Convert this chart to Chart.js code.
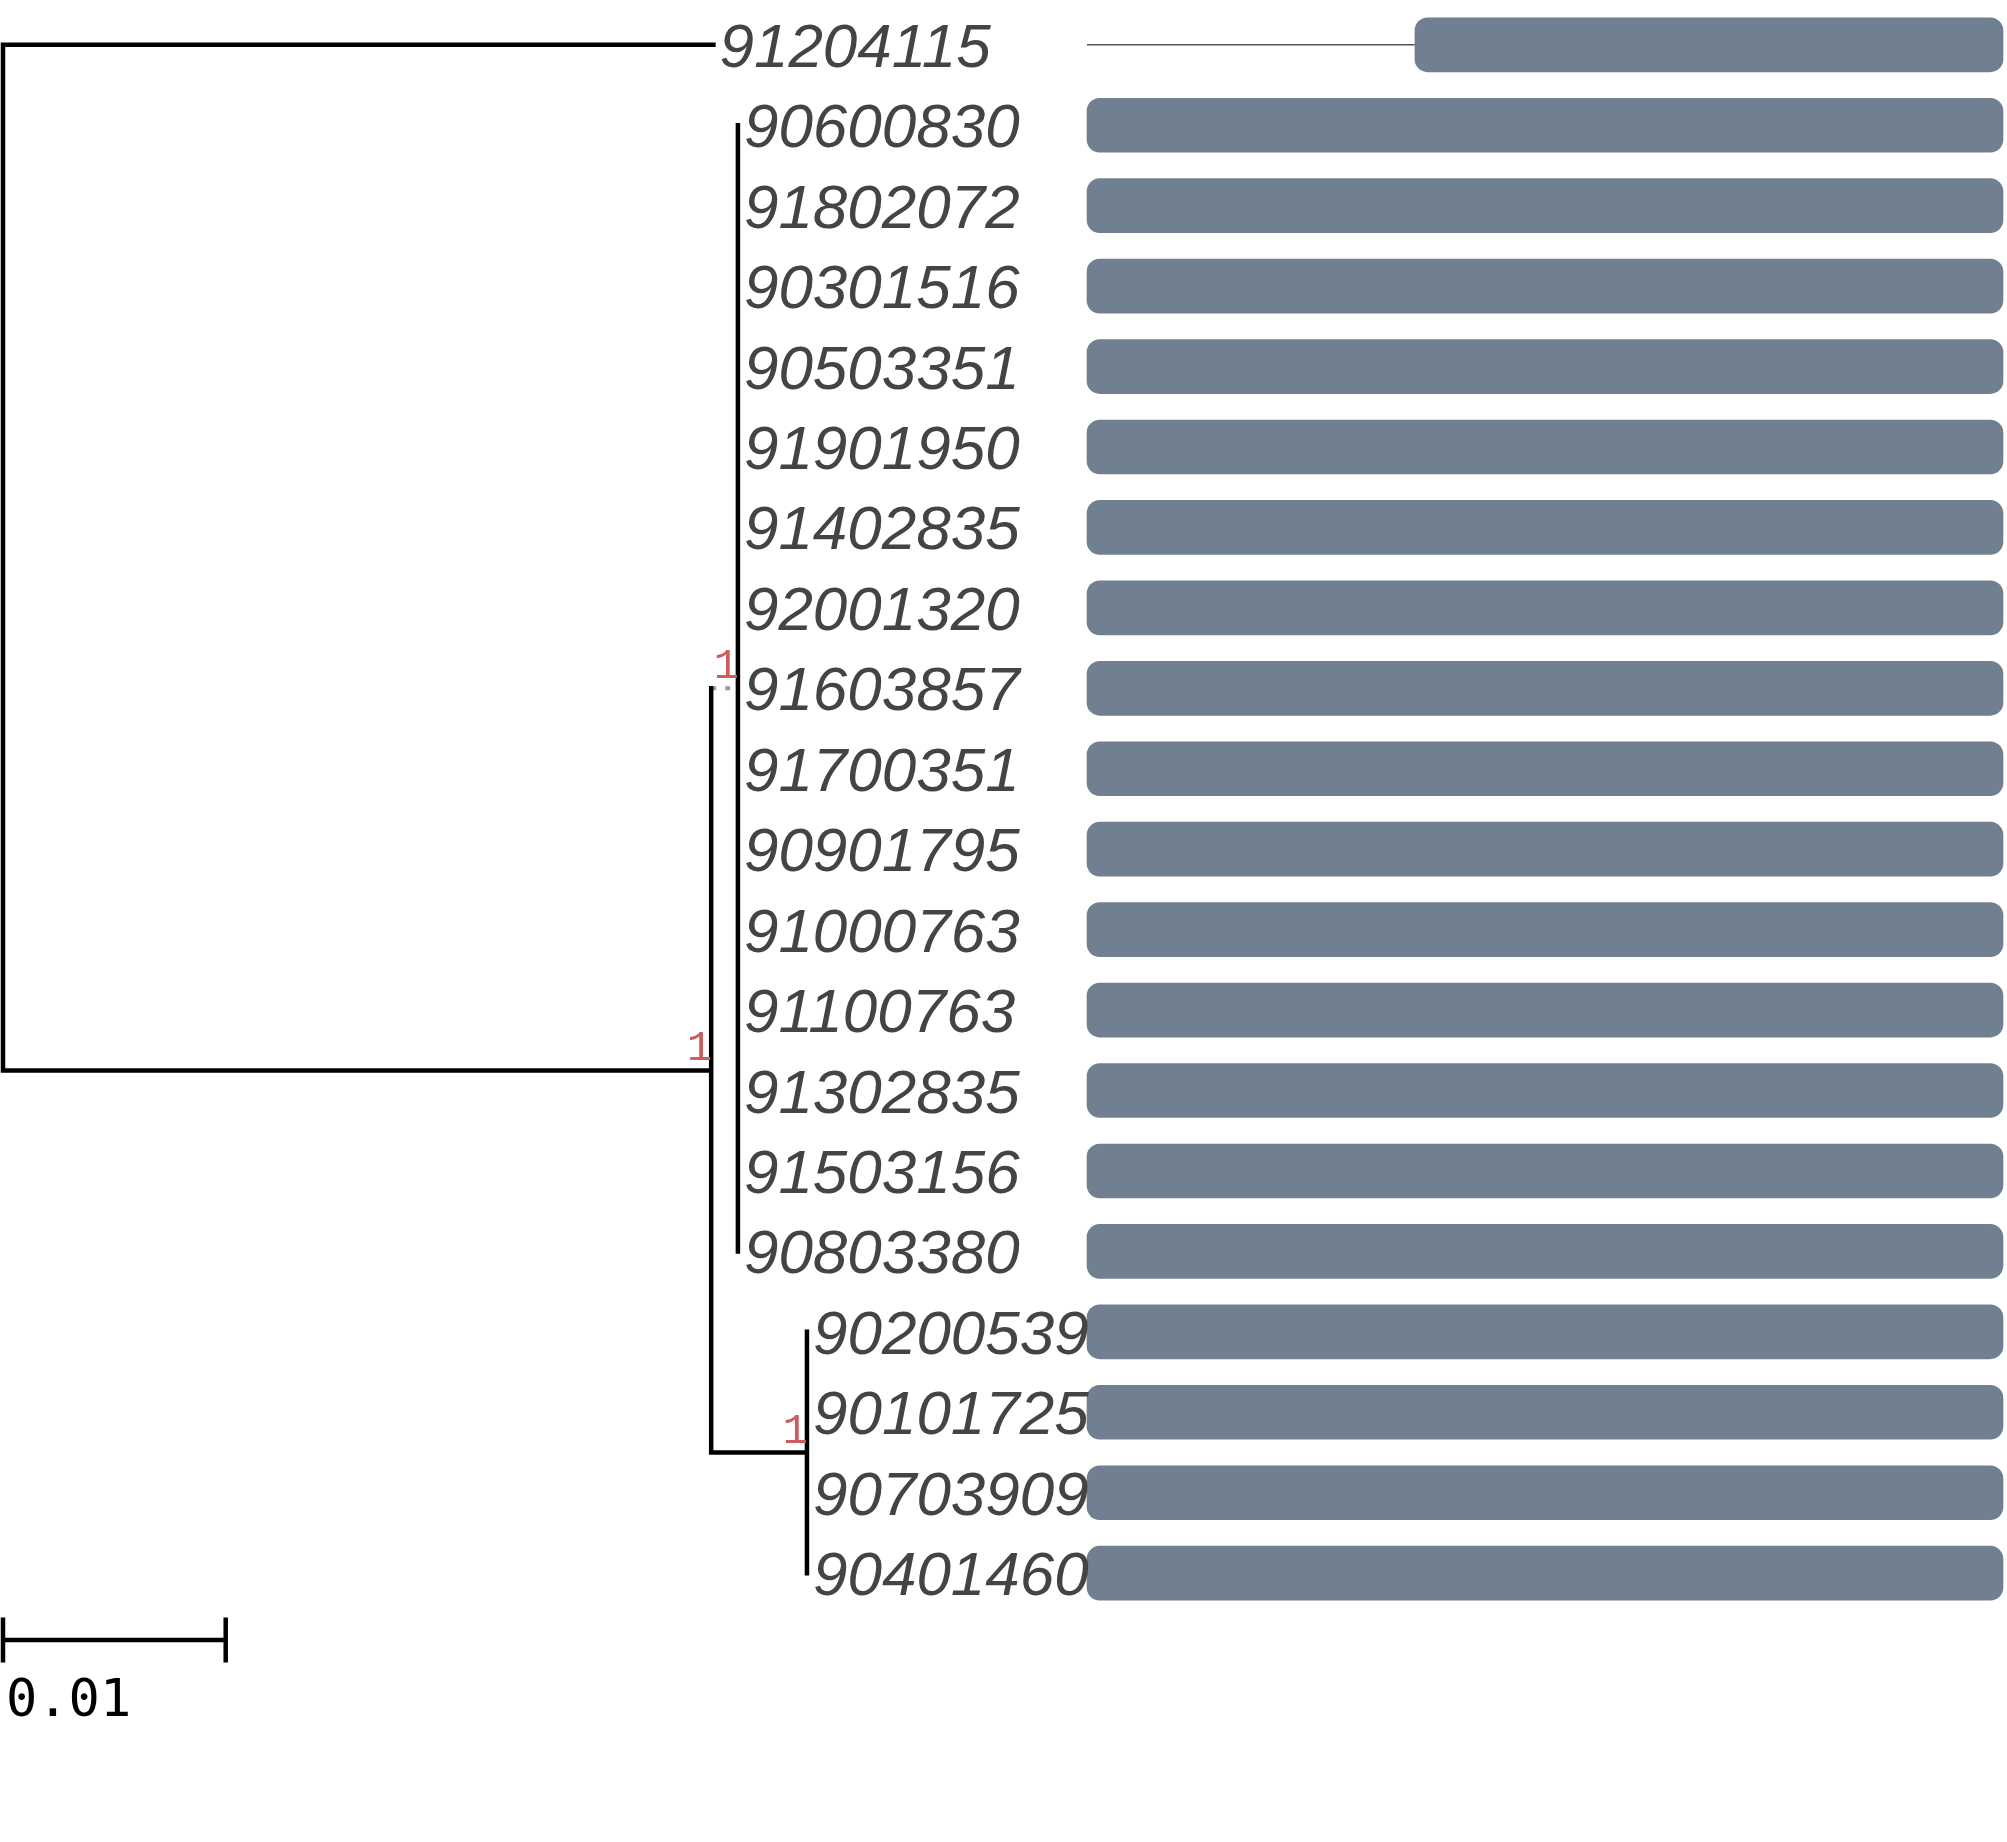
<!DOCTYPE html>
<html>
<head>
<meta charset="UTF-8">
<style>
  html, body { margin: 0; padding: 0; background: #fff; }
  #wrap { width: 2007px; height: 1842px; }
</style>
</head>
<body>
<div id="wrap"><canvas id="tree"></canvas></div>
<script src="https://cdn.jsdelivr.net/npm/chart.js@4.4.0/dist/chart.umd.min.js"></script>
<script>
// tips, top to bottom
const tipLabels = ['91204115', '90600830', '91802072', '90301516', '90503351', '91901950',
  '91402835', '92001320', '91603857', '91700351', '90901795', '91000763', '91100763',
  '91302835', '91503156', '90803380', '90200539', '90101725', '90703909', '90401460'];
const tipParent = ['root', 'B', 'B', 'B', 'B', 'B', 'B', 'B', 'B', 'B', 'B', 'B', 'B', 'B', 'B', 'B',
  'C', 'C', 'C', 'C'];
const tipBranch = [0.0319, 0, 0, 0, 0, 0, 0, 0, 0, 0, 0, 0, 0, 0, 0, 0, 0, 0, 0, 0];

// internal nodes (parents listed before children)
const nodeNames = ['root', 'A', 'B', 'C'];
const nodeParent = [null, 'root', 'A', 'A'];
const nodeBranch = [0, 0.0318, 0.0012, 0.0043];
const nodeSupport = ['', '1', '1', '1'];

// sequence coverage in the alignment panel
const alignLength = 1000;
const seqStart = [358, 0, 0, 0, 0, 0, 0, 0, 0, 0, 0, 0, 0, 0, 0, 0, 0, 0, 0, 0];
const seqEnd = [1000, 1000, 1000, 1000, 1000, 1000, 1000, 1000, 1000, 1000, 1000, 1000, 1000,
  1000, 1000, 1000, 1000, 1000, 1000, 1000];

const scaleBarLength = 0.01;
const scaleBarLabel = '0.01';

// ---- layout (pixels) ----
const W = 2007, H = 1842;
const TREE_X0 = 3, TREE_PX_PER_UNIT = 22270;
const ROW_Y0 = 44.8, ROW_PX = 80.44;
const ALN_X0 = 1087, ALN_X1 = 2003;
const SCALE_ROW = 19.83, SCALE_TICK = 0.28;

function range(px0, pxPerUnit, size) {
  return { min: -px0 / pxPerUnit, max: (size - px0) / pxPerUnit };
}

// ---- build tree geometry ----
const nodeX = {}, nodeY = {};
nodeNames.forEach((n, i) => {
  nodeX[n] = nodeParent[i] === null ? 0 : nodeX[nodeParent[i]] + nodeBranch[i];
});
const tipX = tipLabels.map((_, i) => nodeX[tipParent[i]] + tipBranch[i]);
const childYs = {};
nodeNames.forEach(n => { childYs[n] = []; });
tipParent.forEach((p, i) => childYs[p].push(i));
for (let i = nodeNames.length - 1; i >= 0; i--) {
  const n = nodeNames[i];
  const ys = childYs[n];
  nodeY[n] = (Math.min(...ys) + Math.max(...ys)) / 2;
  if (nodeParent[i] !== null) childYs[nodeParent[i]].push(nodeY[n]);
}

const solid = [], dotted = [];
const gap = { x: null, y: null };
tipLabels.forEach((_, i) => {
  if (tipBranch[i] > 0) {
    solid.push({ x: nodeX[tipParent[i]], y: i }, { x: tipX[i], y: i }, gap);
  }
});
nodeNames.forEach((n, i) => {
  if (nodeParent[i] !== null) {
    const seg = [{ x: nodeX[nodeParent[i]], y: nodeY[n] }, { x: nodeX[n], y: nodeY[n] }, gap];
    (nodeBranch[i] < 0.002 ? dotted : solid).push(...seg);
  }
  const ys = childYs[n];
  solid.push({ x: nodeX[n], y: Math.min(...ys) }, { x: nodeX[n], y: Math.max(...ys) }, gap);
});

// thin line for the uncovered part of each sequence
const backbone = [];
tipLabels.forEach((_, i) => {
  if (seqStart[i] > 0) backbone.push({ x: 0, y: i }, { x: seqStart[i], y: i }, gap);
});

const scaleBar = [
  { x: 0, y: SCALE_ROW }, { x: scaleBarLength, y: SCALE_ROW }, gap,
  { x: 0, y: SCALE_ROW - SCALE_TICK }, { x: 0, y: SCALE_ROW + SCALE_TICK }, gap,
  { x: scaleBarLength, y: SCALE_ROW - SCALE_TICK }, { x: scaleBarLength, y: SCALE_ROW + SCALE_TICK }
];

const lineStyle = { type: 'line', pointRadius: 0, tension: 0, fill: false, spanGaps: false, clip: false };

const treeLabels = {
  id: 'treeLabels',
  afterDatasetsDraw(chart) {
    const ctx = chart.ctx, x = chart.scales.x, y = chart.scales.y;
    ctx.save();
    ctx.textBaseline = 'alphabetic';
    ctx.font = 'italic 62px "Liberation Sans", Arial, sans-serif';
    ctx.fillStyle = '#444444';
    ctx.textAlign = 'left';
    tipLabels.forEach((t, i) => {
      ctx.fillText(t, x.getPixelForValue(tipX[i]) + 6, y.getPixelForValue(i) + 22);
    });
    ctx.font = '42px "Liberation Mono", "DejaVu Sans Mono", monospace';
    ctx.fillStyle = '#cd5c5c';
    ctx.textAlign = 'right';
    nodeNames.forEach((n, i) => {
      if (nodeSupport[i]) {
        ctx.fillText(nodeSupport[i], x.getPixelForValue(nodeX[n]) + 1, y.getPixelForValue(nodeY[n]) - 10);
      }
    });
    ctx.font = '52px "DejaVu Sans Mono", monospace';
    ctx.fillStyle = '#000';
    ctx.textAlign = 'left';
    ctx.fillText(scaleBarLabel, x.getPixelForValue(0) + 3, y.getPixelForValue(SCALE_ROW) + 76);
    ctx.restore();
  }
};

const hiddenAxis = { type: 'linear', display: false, bounds: 'data', offset: false, grace: 0,
  grid: { display: false, offset: false }, ticks: { display: false } };

new Chart(document.getElementById('tree'), {
  type: 'line',
  data: {
    datasets: [
      { ...lineStyle, label: 'branches', data: solid, borderColor: '#000', borderWidth: 4.5,
        borderCapStyle: 'square', order: 1 },
      { ...lineStyle, label: 'short branches', data: dotted, borderColor: '#999', borderWidth: 4,
        borderDash: [5, 9], order: 2 },
      { ...lineStyle, label: 'scale', data: scaleBar, borderColor: '#000', borderWidth: 4.5, order: 3 },
      { type: 'bar', label: 'coverage', indexAxis: 'y', xAxisID: 'xa', yAxisID: 'y', grouped: false,
        data: tipLabels.map((_, i) => ({ x: [seqStart[i], seqEnd[i]], y: i })),
        backgroundColor: '#708090', borderRadius: 13, borderSkipped: false, barThickness: 54, order: 4 },
      { ...lineStyle, label: 'backbone', xAxisID: 'xa', data: backbone, borderColor: '#555',
        borderWidth: 1.5, order: 5 }
    ]
  },
  options: {
    responsive: true,
    maintainAspectRatio: false,
    devicePixelRatio: 1,
    animation: false,
    events: [],
    layout: { padding: 0 },
    plugins: { legend: { display: false }, tooltip: { enabled: false } },
    scales: {
      x: { ...hiddenAxis, ...range(TREE_X0, TREE_PX_PER_UNIT, W) },
      xa: { ...hiddenAxis, axis: 'x', ...range(ALN_X0, (ALN_X1 - ALN_X0) / alignLength, W) },
      y: { ...hiddenAxis, reverse: true, min: -ROW_Y0 / ROW_PX, max: (H - ROW_Y0) / ROW_PX }
    }
  },
  plugins: [treeLabels]
});
</script>
</body>
</html>
